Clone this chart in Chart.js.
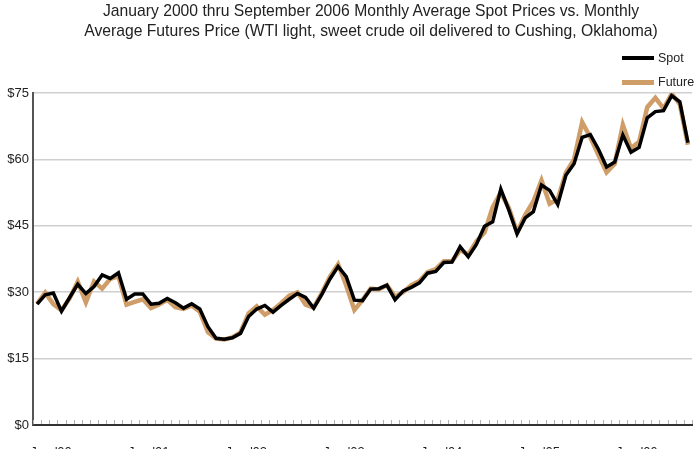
<!DOCTYPE html>
<html>
<head>
<meta charset="utf-8">
<script src="https://cdn.jsdelivr.net/npm/chart.js@4"></script>
<style>
  html, body { margin: 0; padding: 0; background: #fff; overflow: hidden; }
  #wrap { position: relative; width: 700px; height: 449px; }
  #title { position: absolute; left: 71px; width: 600px; top: 1px; text-align: center;
           font-family: "Liberation Sans", Arial, sans-serif; font-size: 15.7px; line-height: 20px; color: #222; }
  #legend { position: absolute; left: 620px; top: 50px; font-family: "Liberation Sans", Arial, sans-serif; font-size: 12.5px; color: #222; }
  .item { position: absolute; left: 0; white-space: nowrap; height: 16px; }
  .swatch { position: absolute; left: 2px; width: 32px; }
  .lbl { position: absolute; left: 38px; top: 0; line-height: 16px; }
</style>
</head>
<body>
<div id="wrap">
  <canvas id="c" width="700" height="449"></canvas>
  <div id="title"></div>
  <div id="legend"></div>
</div>
<script>
// ---- data (monthly averages, Jan 2000 .. Sep 2006) ----
const years = ["00", "01", "02", "03", "04", "05", "06"];
const monthNames = ["Jan","Feb","Mar","Apr","May","Jun","Jul","Aug","Sep","Oct","Nov","Dec"];

const spotPrices = [
  27.3, 29.4, 29.8, 25.7, 28.8, 31.8, 29.7, 31.3, 33.9, 33.1, 34.4, 28.4,
  29.6, 29.6, 27.3, 27.5, 28.6, 27.6, 26.4, 27.4, 26.2, 22.2, 19.6, 19.4,
  19.7, 20.7, 24.5, 26.2, 27.0, 25.5, 27.0, 28.4, 29.7, 28.8, 26.4, 29.5,
  33.0, 35.8, 33.5, 28.2, 28.1, 30.7, 30.8, 31.6, 28.3, 30.3, 31.1, 32.1,
  34.3, 34.7, 36.7, 36.8, 40.3, 38.0, 40.8, 44.9, 45.9, 53.3, 48.5, 43.2,
  46.8, 48.2, 54.2, 53.0, 49.8, 56.4, 59.0, 65.0, 65.6, 62.3, 58.3, 59.4,
  65.5, 61.6, 62.7, 69.4, 70.8, 71.0, 74.4, 73.0, 63.8
];

const futurePrices = [
  27.4, 29.9, 27.3, 25.9, 28.6, 32.4, 27.7, 32.4, 30.8, 33.0, 33.6, 27.2,
  27.8, 28.4, 26.4, 27.2, 28.3, 26.6, 26.2, 27.0, 25.6, 21.0, 19.5, 19.3,
  19.8, 20.9, 25.2, 26.8, 24.9, 26.0, 27.5, 29.2, 30.0, 27.2, 26.5, 29.8,
  33.5, 36.3, 31.5, 26.0, 28.2, 30.8, 30.6, 31.6, 29.0, 30.0, 31.6, 32.5,
  34.5, 35.2, 37.0, 37.0, 39.5, 38.5, 41.5, 43.5, 49.2, 52.5, 49.0, 43.5,
  47.5, 50.5, 55.3, 50.0, 51.0, 57.0, 60.0, 68.4, 65.0, 61.0, 57.1, 59.0,
  67.8, 62.5, 64.0, 71.8, 73.9, 71.5, 74.8, 72.5, 63.3
];

const yTicks = [0, 15, 30, 45, 60, 75];
const titleLines = [
  "January 2000 thru September 2006 Monthly Average Spot Prices vs. Monthly",
  "Average Futures Price (WTI light, sweet crude oil delivered to Cushing, Oklahoma)"
];
const seriesNames = ["Spot", "Future"];
const seriesColors = ["#000000", "#cf9d68"];

// ---- build labels ----
const labels = [];
for (let i = 0; i < spotPrices.length; i++) {
  labels.push(monthNames[i % 12] + " '" + years[Math.floor(i / 12)]);
}

// ---- title (HTML) ----
const titleEl = document.getElementById('title');
titleLines.forEach(t => { const d = document.createElement('div'); d.textContent = t; titleEl.appendChild(d); });

// ---- legend (HTML) ----
const legendEl = document.getElementById('legend');
seriesNames.forEach((name, k) => {
  const it = document.createElement('div');
  it.className = 'item';
  it.style.top = (k * 24) + 'px';
  const sw = document.createElement('div');
  sw.className = 'swatch';
  sw.style.background = seriesColors[k];
  sw.style.height = (k === 0 ? 4 : 5) + 'px';
  sw.style.top = '6px';
  const lb = document.createElement('div');
  lb.className = 'lbl';
  lb.textContent = name;
  it.appendChild(sw); it.appendChild(lb);
  legendEl.appendChild(it);
});

// ---- minor month ticks inside the plot, along the x axis ----
const monthTicks = {
  id: 'monthTicks',
  afterDraw(chart) {
    const xs = chart.scales.x, area = chart.chartArea, ctx = chart.ctx;
    ctx.save();
    ctx.strokeStyle = '#b0b0b0';
    ctx.lineWidth = 1;
    for (let i = 0; i <= labels.length; i++) {
      const x = Math.round(xs.getPixelForValue(i - 0.5)) + 0.5;
      ctx.beginPath();
      ctx.moveTo(x, area.bottom - 1);
      ctx.lineTo(x, area.bottom - 5);
      ctx.stroke();
    }
    ctx.restore();
  }
};

const FONT = '"Liberation Sans", Arial, sans-serif';

new Chart(document.getElementById('c'), {
  type: 'line',
  data: {
    labels: labels,
    datasets: [
      { label: seriesNames[0], data: spotPrices, borderColor: seriesColors[0], borderWidth: 3.5,
        pointRadius: 0, tension: 0, fill: false, order: 0, borderJoinStyle: 'miter' },
      { label: seriesNames[1], data: futurePrices, borderColor: seriesColors[1], borderWidth: 4.5,
        pointRadius: 0, tension: 0, fill: false, order: 1, borderJoinStyle: 'miter' }
    ]
  },
  options: {
    responsive: false,
    animation: false,
    devicePixelRatio: 1,
    layout: { padding: { left: 0, right: 8, top: 93, bottom: 0 } },
    plugins: {
      legend: { display: false },
      tooltip: { enabled: false },
      title: { display: false }
    },
    scales: {
      x: {
        type: 'category',
        offset: true,
        grid: { display: false, drawTicks: false },
        border: { display: true, color: '#333', width: 2 },
        ticks: {
          autoSkip: false,
          maxRotation: 0,
          padding: 20,
          labelOffset: 14,
          color: '#222',
          font: { family: FONT, size: 13 },
          callback: function(v, i) { return i % 12 === 0 ? labels[i] : ''; }
        },
        afterFit(scale) { scale.height = 24; scale.paddingLeft = 0; scale.paddingRight = 0; }
      },
      y: {
        min: 0, max: 75,
        afterBuildTicks(scale) { scale.ticks = yTicks.map(v => ({ value: v })); },
        grid: { color: '#cfcfcf', lineWidth: 1.5, drawTicks: false },
        border: { display: true, color: '#555', width: 2 },
        ticks: {
          padding: 4,
          color: '#222',
          font: { family: FONT, size: 13 },
          callback: v => '$' + v
        },
        afterFit(scale) { scale.width = 33; scale.paddingTop = 0; scale.paddingBottom = 0; }
      }
    }
  },
  plugins: [monthTicks]
});
</script>
</body>
</html>
